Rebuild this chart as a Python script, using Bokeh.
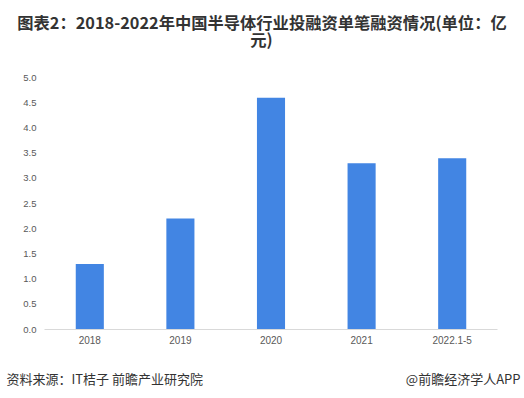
from bokeh.plotting import figure
from bokeh.layouts import column
from bokeh.models import Label, Range1d, SingleIntervalTicker, FactorRange, NumeralTickFormatter
from bokeh.embed import file_html
from bokeh.resources import INLINE

categories = ["2018", "2019", "2020", "2021", "2022.1-5"]
values = [1.3, 2.2, 4.6, 3.3, 3.4]

title_line1 = "图表2：2018-2022年中国半导体行业投融资单笔融资情况(单位：亿"
title_line2 = "元)"
source_text = "资料来源：IT桔子 前瞻产业研究院"
brand_text = "@前瞻经济学人APP"

W = 522
HEAD_H, MAIN_H, FOOT_H = 70, 280, 46


def no_align(f):
    if "frame_align" in f.properties():
        f.frame_align = False


def text_panel(height):
    f = figure(width=W, height=height, x_range=Range1d(0, W), y_range=Range1d(height, 0),
               output_backend="svg", toolbar_location=None,
               min_border=0, min_border_left=0, min_border_right=0,
               min_border_top=0, min_border_bottom=0)
    f.axis.visible = False
    f.grid.visible = False
    f.outline_line_color = None
    f.background_fill_color = "white"
    f.border_fill_color = "white"
    no_align(f)
    return f


def add_label(f, text, x, y, size, bold=False, align="center", color="#333333"):
    f.add_layout(Label(x=x, y=y, text=text, text_align=align, text_baseline="middle",
                       text_font="Noto Sans CJK SC", text_font_size=size,
                       text_font_style="bold" if bold else "normal", text_color=color))


# header with the two-line title (y measured downward from the panel top)
head = text_panel(HEAD_H)
add_label(head, title_line1, 261.5, 21.3, "16.3px", bold=True)
add_label(head, title_line2, 261.0, 38.3, "16.3px", bold=True)

# main chart
p = figure(width=W, height=MAIN_H, x_range=FactorRange(*categories), y_range=Range1d(0, 5.0),
           output_backend="svg", toolbar_location=None,
           min_border_left=44, min_border_right=25, min_border_top=7, min_border_bottom=21)
no_align(p)
p.outline_line_color = None
p.background_fill_color = "white"
p.border_fill_color = "white"
p.xgrid.grid_line_color = None
p.ygrid.grid_line_color = None

p.vbar(x=categories, top=values, width=0.31, color="#4285E3", line_color=None)

p.yaxis.ticker = SingleIntervalTicker(interval=0.5)
p.yaxis.formatter = NumeralTickFormatter(format="0.0")
p.yaxis.axis_line_color = None
p.yaxis.major_tick_line_color = None
p.yaxis.minor_tick_line_color = None
p.yaxis.major_tick_out = 0
p.yaxis.minor_tick_out = 0
p.yaxis.major_label_text_font = "Liberation Sans"
p.yaxis.major_label_text_font_size = "9.5px"
p.yaxis.major_label_text_color = "#595959"
p.yaxis.major_label_standoff = 8

p.xaxis.axis_line_color = "#D9D9D9"
p.xaxis.axis_line_width = 1
p.xaxis.major_tick_line_color = None
p.xaxis.minor_tick_line_color = None
p.xaxis.major_tick_out = 0
p.xaxis.minor_tick_out = 0
p.xaxis.major_label_text_font = "Liberation Sans"
p.xaxis.major_label_text_font_size = "10px"
p.xaxis.major_label_text_color = "#595959"
p.xaxis.major_label_standoff = 6

# footer with source and brand
foot = text_panel(FOOT_H)
add_label(foot, source_text, 6, 27.7, "13px", align="left")
add_label(foot, brand_text, 520, 27.7, "13px", align="right")

layout = column(head, p, foot, spacing=0)

with open("out.html", "w") as f:
    f.write(file_html(layout, INLINE))
